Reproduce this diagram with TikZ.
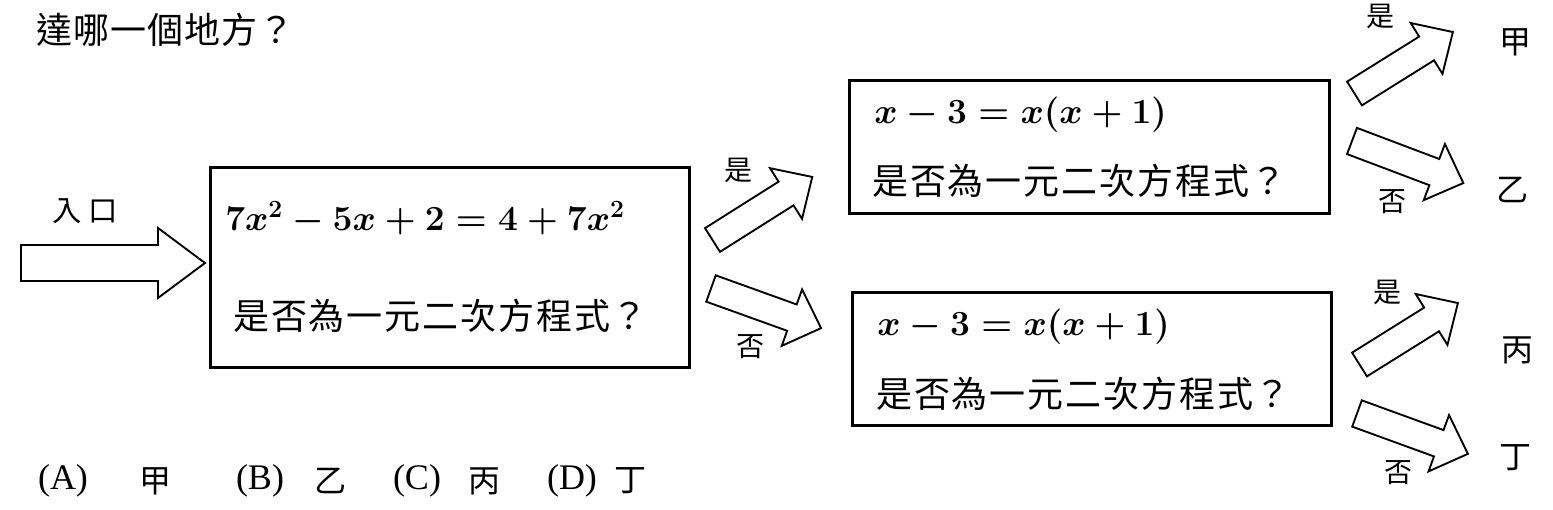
\RequirePackage{fix-cm}
\documentclass[tikz,border=0pt]{standalone}
\usepackage{fontspec}
\newfontfamily\cjk{Noto Sans CJK TC}
\newfontfamily\optfont{Liberation Serif}
\makeatletter
\newcommand\cjkspread[2]{\@tfor\cjk@c:=#2\do{\cjk@c\kern#1}\unkern}
\makeatother
\newcommand\blockarrow[4]{%
  \begin{scope}[shift={(#1,#2)}, rotate=#3]
    \draw[blk] (0,-14) -- ({#4-31},-14) -- ({#4-31},-30) -- (#4,0) -- ({#4-31},30) -- ({#4-31},14) -- (0,14) -- cycle;
  \end{scope}}
\begin{document}
\begin{tikzpicture}[x=0.75pt,y=-0.75pt,
  frame/.style={draw, line width=2pt, anchor=north west, inner sep=0pt},
  txt/.style={inner sep=0pt, anchor=west, font=\cjk\fontsize{27pt}{32pt}\selectfont},
  lab/.style={inner sep=0pt, font=\cjk\fontsize{21pt}{24pt}\selectfont},
  res/.style={inner sep=0pt, font=\cjk\fontsize{24pt}{28pt}\selectfont},
  opt/.style={inner sep=0pt, font=\optfont\fontsize{27pt}{32pt}\selectfont},
  mathtxt/.style={inner sep=0pt, anchor=base west, font=\fontsize{26.5pt}{32pt}\selectfont\boldmath},
  blk/.style={draw, line width=1.4pt, fill=white, line join=miter}]
\useasboundingbox (0,0) rectangle (1553,510);

% title
\node[txt] (title) at (36,30) {\cjkspread{0.8pt}{達哪一個地方？}};

% boxes
\node[frame, minimum width=359.25pt, minimum height=150pt] (q1) at (209,166) {};
\node[frame, minimum width=360pt, minimum height=99.75pt] (q2) at (848,79) {};
\node[frame, minimum width=359.25pt, minimum height=99.75pt] (q3) at (851,291) {};

% box contents
\node[mathtxt] (m1) at (225,230) {$7x^2-5x+2=4+7x^2$};
\node[txt] (t1) at (233,316) {\cjkspread{1.4pt}{是否為一元二次方程式？}};
\node[mathtxt] (m2) at (874,123) {$x-3=x(x+1)$};
\node[txt] (t2) at (872,181) {\cjkspread{1.4pt}{是否為一元二次方程式？}};
\node[mathtxt] (m3) at (877,335) {$x-3=x(x+1)$};
\node[txt] (t3) at (876,394) {\cjkspread{1.4pt}{是否為一元二次方程式？}};

% entry
\node[lab, anchor=west, font=\cjk\fontsize{22pt}{24pt}\selectfont] (entry) at (52,211) {\cjkspread{5pt}{入口}};
\draw[blk] (21,245) -- (158,245) -- (158,228) -- (205,263) -- (158,298) -- (158,281) -- (21,281) -- cycle;

% block arrows
\blockarrow{712.5}{240}{32.3}{118}
\blockarrow{711}{288.5}{-19.8}{117}
\blockarrow{1354.5}{93.5}{32}{116}
\blockarrow{1352}{141}{-20.7}{119}
\blockarrow{1359.5}{364.5}{32}{116}
\blockarrow{1357}{413.5}{-20}{118}

% arrow labels
\node[lab] (y1) at (738,170) {是};
\node[lab] (n1) at (750,347) {否};
\node[lab] (y2) at (1380,16) {是};
\node[lab] (n2) at (1392,202) {否};
\node[lab] (y3) at (1387,292) {是};
\node[lab] (n3) at (1398,473) {否};

% results
\node[res] (jia) at (1515,42) {甲};
\node[res] (yi) at (1512,190) {乙};
\node[res] (bing) at (1517,350) {丙};
\node[res] (ding) at (1515,458) {丁};

% options
\node[opt] (oa) at (63,481) {(A)};
\node[res] (ca) at (155,481) {甲};
\node[opt] (ob) at (260,481) {(B)};
\node[res] (cb) at (330,481) {乙};
\node[opt] (oc) at (417,481) {(C)};
\node[res] (cc) at (484,481) {丙};
\node[opt] (od) at (572,481) {(D)};
\node[res] (cd) at (630,481) {丁};
\end{tikzpicture}
\end{document}
